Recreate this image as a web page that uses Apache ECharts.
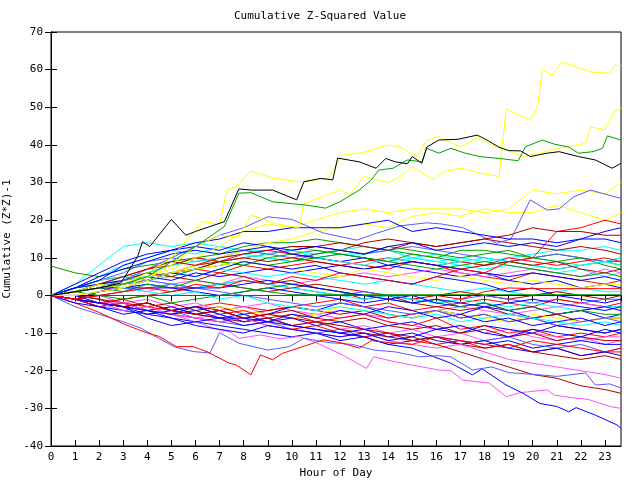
<!DOCTYPE html>
<html><head><meta charset="utf-8">
<script src="https://cdn.jsdelivr.net/npm/echarts@6/dist/echarts.min.js"></script>
<style>html,body{margin:0;padding:0;background:#fff}#c{width:640px;height:480px}</style>
</head><body><div id="c"></div>
<script>
const hours = [0,1,2,3,4,5,6,7,8,9,10,11,12,13,14,15,16,17,18,19,20,21,22,23,23.667];
const xTicks = [0,1,2,3,4,5,6,7,8,9,10,11,12,13,14,15,16,17,18,19,20,21,22,23];
const yTicks = [-40,-30,-20,-10,0,10,20,30,40,50,60,70];

// traced outlier lines: own time points (hours) and values
const blackH = [0,1,2,2.9,3.6,3.8,4.1,5,5.6,6,7.2,7.8,8.3,9.2,10.2,10.5,11.2,11.7,11.9,12.8,13.5,13.9,14.3,14.8,15,15.4,15.6,16.1,16.9,17.7,18.1,18.6,19,19.5,19.9,20.6,21.1,21.9,22.6,23.3,23.667];
const blackV = [0,1,2,3.3,10.4,14.3,13,20.2,16,17,19.6,28.3,28,28,25.4,30.2,31.1,30.7,36.5,35.5,33.8,36.4,35.5,35,36.9,35.1,39.4,41.3,41.5,42.6,41.3,39.4,38.5,38.4,36.9,37.8,38.2,36.9,36,33.8,35.1];
const greenTopH = [0,1,2,3,4,5,6,7.2,7.8,8.3,9.2,10.6,11.4,12,12.8,13.3,13.6,14.2,14.8,15.4,15.6,16.1,16.6,17.2,17.8,18.6,19.4,19.7,20.4,20.9,21.5,21.9,22.5,22.9,23.1,23.667];
const greenTopV = [0,1,2,3,5,9,13,18.3,27.2,27.3,24.9,24,23.2,24.9,28,30.7,33.3,33.8,36,35.5,39.1,37.8,39.1,37.8,36.9,36.4,35.8,39.5,41.3,40.2,39.4,37.8,38.2,39.1,42.4,41.3];
const yellowAH = [0,1,2,3,4,5,6,6.3,7,7.3,7.7,8.3,9.2,10.3,11.5,12.1,13,14,14.5,15.2,15.6,16.1,17,17.7,18.5,19.6,20.4,21,22.2,22.4,23,23.4,23.667];
const yellowAV = [0,1,2,3,6,10,17.4,19.6,19,28,29,33,31.2,30.2,31,37.3,38,40,39.4,36.9,41.3,42.2,39.5,41.8,39.5,36.9,38,39,40.4,44.8,44,48.9,49.8];
const yellowBH = [0,1,2,3,4,5,6,7,7.8,8.3,9.2,10.3,10.5,12,12.4,13,14,14.5,15,15.9,16.3,17,17.9,18.6,18.9,19.9,20.2,20.4,20.8,21.2,22.4,23.2,23.4,23.667];
const yellowBV = [0,1,3,2,5,8,13,16,15.6,21.4,19.3,17.9,24.4,28,26.7,31.6,30,31.6,34.2,30.7,32.9,33.8,32.4,31.6,49.5,46.6,50.1,60,58.5,62,59.4,59,61.2,61];
const blueBotH = [0,1,2,3,4,5,6,7,8,9,10,11,12,13,14,15,15.7,16.6,17.5,17.9,18.9,19.6,20.3,21,21.5,21.8,22.6,23.5,23.667];
const blueBotV = [0,-1,-2,-3,-4,-5,-4,-6,-6,-7,-8,-9,-10,-11,-13,-14,-15.8,-18,-21.1,-19.5,-23.8,-26,-28.7,-29.5,-30.9,-29.8,-31.8,-34.4,-35.3];
const magentaEH = [0,1,2,3,4,5,6,7,7.4,7.8,8.7,9.5,10.3,11,12.1,13.1,13.4,14.2,15,16.1,16.6,17.1,18.2,18.9,19.5,20.6,20.9,21.8,22.3,23.2,23.667];
const magentaEV = [0,-1,-2,-2,-4,-5,-7,-9.2,-9.6,-11.4,-10.5,-11.5,-10.9,-12.5,-15.8,-19.4,-16.3,-17.5,-18.5,-19.8,-20,-22.5,-23.3,-26.9,-25.8,-25.1,-26.5,-27.3,-27.6,-29.5,-30];
const lblueAH = [0,1,2,3,4,5,6,7,8,9,10,11.3,12.7,13.5,14.5,15.6,16.2,17.1,18.5,19.1,19.9,20.6,21.1,21.7,22.4,22.9,23.667];
const lblueAV = [0,1,2,4,7,10,13,16,18,20.9,20.2,16.6,14.7,16.5,18.5,19.3,19,18,13.9,15,25.4,22.7,23,26.2,28,27.1,25.8];
const redFH = [0,1,2,3.1,4,4.5,5.2,5.9,6.5,7.4,7.7,8.3,8.7,9.2,9.6,10.5,11.3,12,12.8,13.3,14,15,16,17,18,19,20,21,22,23,23.667];
const redFV = [0,-2,-4.5,-7.8,-10,-10.9,-13.6,-13.6,-15,-18,-18.5,-21.1,-15.8,-17.1,-15.4,-13.5,-11.8,-12.5,-14,-12,-12.5,-13,-11,-12,-13,-14,-12,-13,-14,-15,-14];
const lblueFH = [0,1,2,3,3.7,5.1,5.9,6.6,7,7.8,9,9.9,10.5,11.5,12.5,13.4,14.3,15.3,16.1,16.6,17.5,18.3,19,20.3,21,22.2,22.6,23.2,23.667];
const lblueFV = [0,-3,-5,-7,-8.6,-13.6,-14.9,-15.3,-9.9,-12.7,-14.5,-13.6,-11.4,-12.5,-13,-14.5,-15,-16.3,-16,-16.3,-19.8,-19,-20.5,-21.1,-21.5,-20.6,-23.8,-23.5,-24.6];

// remaining stations, values at each hour of `hours`
const yellowC    = [0,1,2,3,5,7,10,13,17,19,18,20,22,23,22,23,23,23,22,23,28,27,28,27,30];
const yellowD    = [0,0,1,2,4,6,8,10,12,14,15,17,18,19,18,21,22,21,23,22,22,24,22,20,22];
const blueA      = [0,2,4,8,10,12,14,15,17,17,18,18,18,19,20,17,18,17,16,15,15,14,15,17,18];
const redA       = [0,-1,0,1,2,1,3,2,4,3,5,4,6,5,4,3,5,7,6,9,10,17,18,20,19];
const dredA      = [0,1,3,5,7,9,8,10,11,12,13,13,14,13,12,14,13,14,15,16,18,17,17,16,16];
const cyanA      = [0,3,8,13,14,13,14,13,12,12,13,12,11,11,12,10,9,10,9,10,11,12,12,13,12];
const blueB      = [0,2,5,7,9,11,12,11,12,13,12,13,12,11,13,14,12,13,14,13,14,13,15,15,14];
const greenB     = [7.8,6,5,7,8,9,10,9,8,10,11,12,11,10,9,11,10,9,8,9,8,7,8,9,8];
const lblueB     = [0,2,4,6,9,10,9,10,12,11,10,11,12,11,12,13,12,11,10,9,10,11,10,9,10];
const redB       = [0,-1,1,3,5,6,7,6,8,7,8,9,8,9,10,9,8,9,8,10,9,8,9,10,9];
const cyanB      = [0,1,3,5,6,8,9,10,11,10,9,10,9,8,10,9,8,9,10,9,8,7,8,9,8];
const dredB      = [0,1,2,3,5,6,7,9,10,9,10,9,8,7,8,9,8,7,8,9,8,9,7,6,7];
const magentaA   = [0,0,1,2,1,3,4,3,5,4,3,4,5,6,5,6,7,6,5,6,7,6,5,7,6];
const greenC     = [0,1,3,4,6,5,7,8,9,8,9,10,11,10,9,8,7,8,9,8,7,6,5,6,5];
const blueC      = [0,2,3,4,5,4,6,5,6,7,6,7,8,7,8,9,8,7,6,5,6,5,4,5,4];
const yellowE    = [0,1,2,3,5,6,7,8,9,8,7,6,5,7,6,5,4,5,4,3,4,3,2,3,3];
const redFlat    = [0,-1,0,0,0,0,0,0,0,0,0,0,0,0,0,0,0,-1,1,2,1.8,1.8,1.8,1.8,1.8];
const greenFlat  = [0,1,2,1,3,2,4,3,2,1,0.2,0.2,0.2,0.2,0.2,0.2,0.2,0.2,0.2,0.2,0.2,0.2,0.2,0.2,0.2];
const blueFlat   = [0,1,2,2,2,2,2,2,3,4,3,2,1,0,-1,-2,-1,-2,-3,-2,-1,-2,-3,-4,-3];
const cyanC      = [0,1,2,4,5,6,5,7,6,5,6,5,4,3,4,3,2,1,2,1,0,1,2,1,1];
const dredC      = [0,-1,-2,-1,0,1,2,3,2,1,2,3,2,1,0,-1,0,1,0,-1,0,1,0,-1,0];
const lblueC     = [0,-1,0,1,2,3,2,3,4,3,2,1,0,1,0,-1,-2,-1,0,-1,-2,-1,-2,-1,-1];
const redC       = [0,-1,-2,-3,-2,-4,-3,-2,-3,-4,-3,-2,-1,-3,-2,-4,-3,-2,-1,-2,-3,-1,-2,-3,-2];
const magentaB   = [0,-1,-2,-3,-4,-3,-5,-4,-3,-5,-6,-5,-4,-5,-6,-5,-4,-3,-4,-5,-4,-3,-2,-3,-3];
const cyanD      = [0,2,4,5,4,3,2,3,4,3,2,1,0,-1,0,-1,-2,-1,-2,-3,-2,-3,-4,-3,-3];
const blueD      = [0,-1,1,2,3,2,1,0,1,2,1,0,-1,-2,-1,0,-2,-3,-2,-4,-3,-5,-4,-3,-4];
const greenD     = [0,1,0,-1,0,-2,-1,0,1,2,3,2,1,0,-1,-2,-1,-3,-2,-4,-3,-5,-4,-5,-5];
const dredD      = [0,0,-1,-2,-3,-2,-4,-3,-5,-4,-3,-4,-5,-4,-6,-5,-4,-6,-5,-7,-6,-5,-7,-6,-6];
const yellowF    = [0,-1,-2,-3,-2,-4,-5,-3,-4,-5,-6,-5,-3,-4,-5,-6,-4,-5,-6,-7,-5,-6,-7,-6,-6];
const lblueD     = [0,1,2,3,4,3,2,1,0,-1,-2,-3,-2,-3,-4,-5,-4,-6,-5,-7,-6,-8,-7,-6,-7];
const cyanE      = [0,1,3,2,1,0,1,-1,0,-2,-3,-4,-3,-4,-5,-6,-5,-7,-6,-5,-6,-7,-8,-7,-8];
const blueE      = [0,-1,-2,-3,-4,-3,-5,-6,-5,-7,-6,-8,-7,-9,-8,-7,-9,-10,-8,-9,-10,-8,-9,-10,-9];
const redD       = [0,-1,-2,-1,-3,-4,-3,-5,-4,-6,-5,-7,-6,-5,-7,-8,-6,-9,-8,-10,-9,-11,-10,-11,-10];
const magentaC   = [0,-1,-2,-3,-4,-5,-6,-5,-7,-6,-8,-7,-9,-8,-10,-9,-11,-10,-12,-11,-10,-11,-12,-11,-11];
const dredE      = [0,0,-1,-3,-2,-4,-5,-4,-6,-5,-4,-6,-7,-6,-8,-9,-8,-10,-9,-11,-10,-12,-11,-12,-12];
const blueF      = [0,-1,-3,-4,-5,-6,-7,-8,-9,-10,-11,-10,-12,-11,-13,-12,-11,-12,-13,-12,-14,-13,-12,-13,-13];
const lblueE     = [0,-1,-2,-4,-5,-4,-6,-7,-8,-7,-9,-10,-9,-11,-10,-12,-11,-13,-12,-11,-13,-14,-13,-15,-14];
const redE       = [0,-1,-3,-2,-4,-5,-6,-7,-6,-8,-9,-8,-10,-11,-10,-12,-13,-12,-14,-13,-15,-14,-16,-15,-15];
const blueG      = [0,0,-2,-3,-5,-4,-3,-5,-7,-6,-8,-9,-10,-9,-11,-10,-12,-13,-12,-14,-15,-14,-16,-15,-16];
const dredF      = [0,-1,-2,-3,-2,-4,-5,-6,-7,-6,-8,-7,-9,-10,-11,-12,-11,-13,-14,-13,-15,-16,-17,-16,-17];
const magentaD   = [0,-1,-2,-4,-3,-5,-6,-7,-6,-8,-9,-10,-11,-10,-12,-13,-14,-13,-15,-17,-18,-19,-20,-21,-22];
const dredG      = [0,-1,-2,-3,-2,-4,-5,-4,-6,-5,-6,-7,-8,-9,-10,-11,-13,-15,-17,-19,-21,-22,-24,-25,-26];
const blueH      = [0,-2,-3,-5,-4,-6,-8,-9,-10,-8,-9,-10,-11,-10,-12,-11,-9,-8,-10,-11,-9,-10,-11,-9,-10];
const blueI      = [0,-1,-2,-3,-6,-8,-7,-6,-8,-7,-5,-6,-4,-5,-3,-4,-6,-5,-7,-6,-8,-7,-6,-8,-7];
const cyanF      = [0,2,5,8,10,12,11,13,12,11,12,10,11,10,9,10,9,8,7,8,7,6,7,5,6];
const greenE     = [0,1,2,4,6,8,10,11,13,14,14,15,14,13,12,11,10,12,12,11,10,11,10,9,9];
const dredH      = [0,1,2,3,4,6,8,9,10,11,12,13,12,14,15,14,13,14,15,14,13,12,13,12,11];
const blueJ      = [0,3,6,9,11,12,13,12,14,13,11,10,9,10,8,7,6,5,6,4,3,4,2,3,2];
const blueK      = [0,1,3,2,4,6,5,7,9,8,7,8,6,5,4,3,5,4,3,1,2,0,-1,-2,-1];
const redG       = [0,2,4,5,7,8,10,9,11,12,11,10,9,8,7,9,8,6,5,4,6,5,4,3,4];
const greenF     = [0,2,3,5,4,6,7,9,8,10,9,11,12,11,13,12,11,10,11,12,10,9,10,8,7];
const dredI      = [0,1,2,4,6,5,4,6,5,3,4,2,1,-1,0,-2,-3,-4,-3,-5,-6,-8,-9,-10,-9];
const cyanG      = [0,1,2,3,4,5,7,9,10,11,12,11,12,13,12,10,11,9,8,9,10,9,8,9,10];
const magentaF   = [0,-1,0,-2,-1,-3,-2,-4,-3,-2,-4,-5,-6,-5,-7,-8,-9,-8,-10,-9,-11,-12,-11,-13,-12];
const blueL      = [0,-1,-3,-2,-4,-5,-3,-4,-6,-5,-3,-4,-2,-3,-5,-6,-4,-5,-3,-4,-6,-5,-4,-6,-5];

const RED='#ff0000', GREEN='#00a000', BLUE='#0000ff', MAG='#ff50ff', CYAN='#00ffff',
      DRED='#b00000', YEL='#ffff00', BLK='#000000', LBLUE='#5a5aff';

// [hours, values, colour]
const lines = [
  [hours,cyanA,CYAN],[hours,cyanF,CYAN],[hours,greenE,GREEN],[hours,dredH,DRED],[hours,lblueB,LBLUE],[hours,greenB,GREEN],
  [hours,cyanG,CYAN],[hours,greenF,GREEN],[hours,redG,RED],[hours,blueJ,BLUE],
  [hours,redB,RED],[hours,cyanB,CYAN],[hours,dredB,DRED],[hours,magentaA,MAG],[hours,greenC,GREEN],[hours,blueC,BLUE],
  [hours,yellowE,YEL],[hours,cyanC,CYAN],[hours,dredC,DRED],[hours,lblueC,LBLUE],[hours,redC,RED],[hours,magentaB,MAG],
  [hours,blueK,BLUE],[hours,dredI,DRED],[hours,magentaF,MAG],[hours,blueL,BLUE],
  [hours,cyanD,CYAN],[hours,blueD,BLUE],[hours,greenD,GREEN],[hours,dredD,DRED],[hours,yellowF,YEL],[hours,lblueD,LBLUE],
  [hours,cyanE,CYAN],[hours,blueE,BLUE],[hours,redD,RED],[hours,magentaC,MAG],[hours,dredE,DRED],[hours,blueF,BLUE],
  [hours,lblueE,LBLUE],[hours,redE,RED],[hours,blueG,BLUE],[hours,dredF,DRED],[hours,magentaD,MAG],[magentaEH,magentaEV,MAG],
  [blueBotH,blueBotV,BLUE],[hours,dredG,DRED],[lblueFH,lblueFV,LBLUE],[redFH,redFV,RED],[hours,blueH,BLUE],[hours,blueI,BLUE],
  [hours,greenFlat,GREEN],[hours,blueFlat,BLUE],[hours,redFlat,RED],
  [hours,yellowD,YEL],[hours,yellowC,YEL],[lblueAH,lblueAV,LBLUE],[hours,blueA,BLUE],[hours,redA,RED],[hours,dredA,DRED],[hours,blueB,BLUE],
  [yellowAH,yellowAV,YEL],[yellowBH,yellowBV,YEL],[greenTopH,greenTopV,GREEN],[blackH,blackV,BLK]
];

const FONT = 'DejaVu Sans Mono';
const series = lines.map(([hs,vals,col]) => ({
  type:'line', symbol:'none', silent:true,
  data: vals.map((v,i)=>[hs[i], v]),
  lineStyle:{color:col, width:1}, itemStyle:{color:col}
}));

const chart = echarts.init(document.getElementById('c'), null, {renderer:'canvas'});
const tickOpts = {inside:true, length:6, lineStyle:{color:'#000'}};
chart.setOption({
  animation:false,
  backgroundColor:'#fff',
  title:{text:'Cumulative Z-Squared Value', left:'center', top:6,
    textStyle:{fontFamily:FONT, fontSize:11, fontWeight:'normal', color:'#000'}},
  grid:{left:51, right:19, top:32, bottom:34, show:true, borderColor:'#000', borderWidth:1,
    containLabel:false, outerBoundsMode:'none'},
  xAxis:[{
    type:'value', min:0, max:hours[hours.length-1], interval:1,
    name:'Hour of Day', nameLocation:'middle', nameGap:21,
    nameTextStyle:{fontFamily:FONT, fontSize:11, color:'#000'},
    axisLine:{show:true, onZero:false, lineStyle:{color:'#000'}},
    axisTick:tickOpts, splitLine:{show:false},
    axisLabel:{fontFamily:FONT, fontSize:11, color:'#000', margin:6, showMaxLabel:false,
      formatter:v=> xTicks.includes(v) ? String(v) : ''}
  },{
    type:'value', position:'top', min:0, max:hours[hours.length-1], interval:1,
    axisLine:{show:true, lineStyle:{color:'#000'}}, axisTick:tickOpts,
    axisLabel:{show:false}, splitLine:{show:false}
  }],
  yAxis:[{
    type:'value', min:yTicks[0], max:yTicks[yTicks.length-1], interval:10,
    name:'Cumulative (Z*Z)-1', nameLocation:'middle', nameGap:34, nameRotate:90,
    nameTextStyle:{fontFamily:FONT, fontSize:11, color:'#000'},
    axisLine:{show:true, onZero:false, lineStyle:{color:'#000'}},
    axisTick:tickOpts, splitLine:{show:false},
    axisLabel:{fontFamily:FONT, fontSize:11, color:'#000', margin:8}
  },{
    type:'value', position:'right', min:yTicks[0], max:yTicks[yTicks.length-1], interval:10,
    axisLine:{show:true, lineStyle:{color:'#000'}}, axisTick:tickOpts,
    axisLabel:{show:false}, splitLine:{show:false}
  }],
  series: series
});
</script></body></html>
